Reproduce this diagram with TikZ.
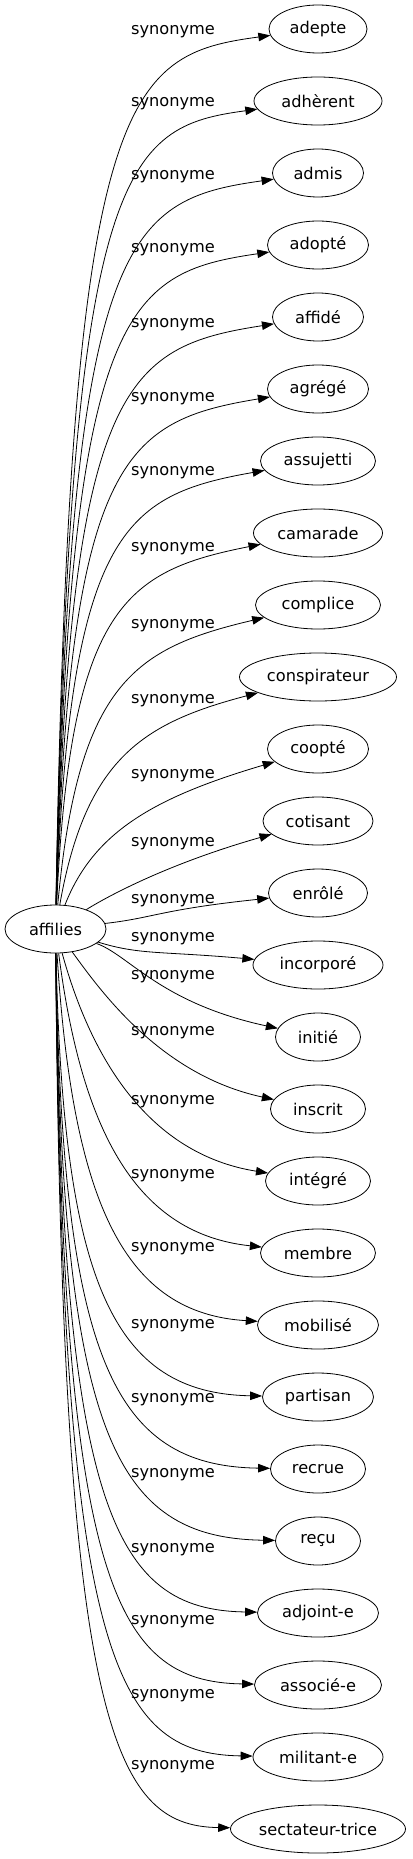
\documentclass[tikz,border=0pt]{standalone}
\usepackage{fontspec}
\setmainfont{DejaVu Sans}
\usetikzlibrary{shapes,arrows.meta,calc}
\tikzstyle{syn} = [line width=0.8pt, -{Triangle[length=12pt,width=8.5pt]}]
\tikzstyle{word} = [draw, ellipse, line width=0.8pt, inner sep=0pt, minimum height=48pt]

\begin{document}
\begin{tikzpicture}[x=1pt,y=-1pt,font=\fontsize{16.2}{19}\selectfont]
\useasboundingbox (0,0) rectangle (412,1859);
\node[word, minimum width=101pt] (src) at (55.5,929) {affilies};
\foreach \n/\w/\ly [count=\i from 0] in {adepte/98/30, adhèrent/128/102, admis/91/175,
  adopté/101/248, affidé/91/322, agrégé/101/396, assujetti/115/470, camarade/129/546,
  complice/125/623, conspirateur/157/698, coopté/101/773, cotisant/110/841,
  enrôlé/99/898, incorporé/130/936, initié/85/974, inscrit/95/1030, intégré/105/1099,
  membre/115/1173, mobilisé/121/1246, partisan/111/1323, recrue/95/1397, reçu/85/1472,
  adjoint-e/121/1547, associé-e/127/1619, militant-e/130/1693, sectateur-trice/175/1764}{
\pgfmathsetmacro\ty{29+72*\i}
% control points of the edge, above or below the source
\ifdim\ly pt<929pt
  \pgfmathsetmacro\dist{905-\ly}
  \pgfmathsetmacro\j{min(1,max(0,1-(\dist-64)/300))}
  \pgfmathsetmacro\m{min(1,max(0,1-\dist/64))}
  \pgfmathsetmacro\ax{70+30*\j+60*\m}
  \pgfmathsetmacro\ay{min(\ly+60,918)}
  \pgfmathsetmacro\bx{125+35*\j}
  \pgfmathsetmacro\by{\ly+25-15*\m}
\else
  \pgfmathsetmacro\dist{\ly-953}
  \pgfmathsetmacro\j{min(1,max(0,1-(\dist-77)/300))}
  \pgfmathsetmacro\m{min(1,max(0,1-\dist/77))}
  \pgfmathsetmacro\ax{62+38*\j+40*\m}
  \pgfmathsetmacro\ay{max(\ly-40,955)}
  \pgfmathsetmacro\bx{112+48*\j}
  \pgfmathsetmacro\by{max(\ty-3-31*\j,\ly+15)}
\fi
\node[word, minimum width=\w pt] (t\i) at (318,\ty) {\n};
\node[anchor=base] (l\i) at (173,\ly+5) {synonyme};
\draw[syn] (src) .. controls (\ax,\ay) and (\bx,\by) .. (t\i);
}
\end{tikzpicture}
\end{document}
